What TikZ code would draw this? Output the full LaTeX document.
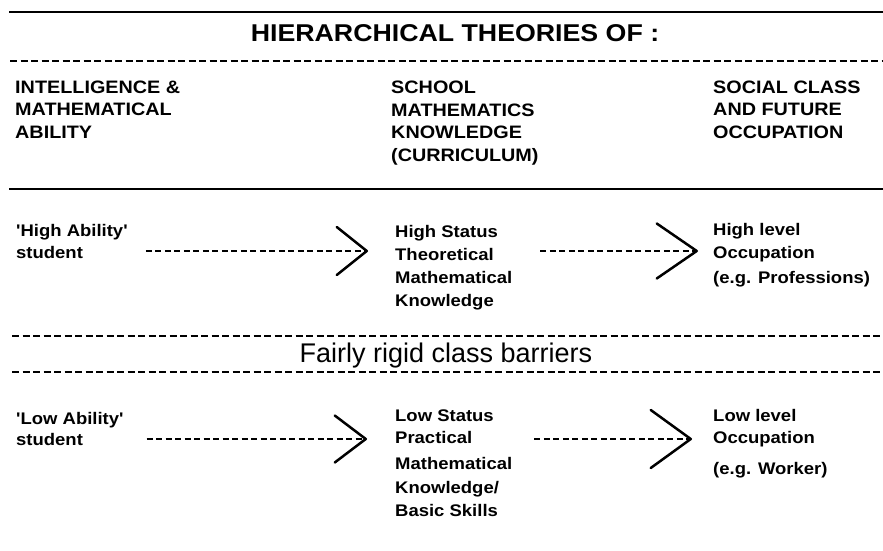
\documentclass[tikz,border=0pt]{standalone}
\usepackage{fontspec}
\setmainfont{Liberation Sans}
\newfontfamily\widesf[FakeStretch=1.1]{Liberation Sans}
\usetikzlibrary{arrows.meta}

\begin{document}
\begin{tikzpicture}[x=1pt,y=-1pt]
    \tikzset{rule/.style = {line width=2.5pt}}
    \tikzset{sep/.style = {line width=2.5pt,dash pattern=on 7pt off 3.5pt}}
    \tikzset{head/.style = {font=\widesf\bfseries\fontsize{18}{22.5}\selectfont,align=left,anchor=base west,inner sep=0pt}}
    \tikzset{body/.style = {font=\widesf\bfseries\fontsize{16.8}{23}\selectfont,align=left,anchor=base west,inner sep=0pt}}
    \tikzset{flow/.style 2 args = {line width=1.2pt,dash pattern=on 6pt off 3.5pt,
        -{Straight Barb[length=#1,width=#2,line width=2.5pt,round]}}}
    \useasboundingbox (0,0) rectangle (883,551);
    \node[font=\widesf\bfseries\fontsize{24.3}{28}\selectfont,anchor=base,inner sep=0pt] (title) at (455,42) {HIERARCHICAL THEORIES OF :};
    \node[head] (h1) at (15,138) {INTELLIGENCE \&\\MATHEMATICAL\\ABILITY};
    \node[head] (h2) at (391,161) {SCHOOL\\MATHEMATICS\\KNOWLEDGE\\(CURRICULUM)};
    \node[head] (h3) at (713,138) {SOCIAL CLASS\\AND FUTURE\\OCCUPATION};
    \node[body] (hiStu) at (16,258) {'High Ability'\\[-1pt]student};
    \node[body] (hiKnow) at (395,306) {High Status\\Theoretical\\Mathematical\\Knowledge};
    \node[body] (hiOcc) at (713,283) {High level\\Occupation\\[2pt](e.g. Professions)};
    \node[font=\fontsize{27}{30}\selectfont,anchor=base,inner sep=0pt] (bar) at (446,362) {Fairly rigid class barriers};
    \node[body] (loStu) at (16,445) {'Low Ability'\\[-2pt]student};
    \node[body] (loKnow) at (395,516) {Low Status\\[-1pt]Practical\\[3pt]Mathematical\\[1pt]Knowledge/\\Basic Skills};
    \node[body] (loOcc) at (713,474) {Low level\\[-1pt]Occupation\\[8pt](e.g. Worker)};
    \coordinate (hiRow) at (0,251); \coordinate (loRow) at (0,439);
    \draw[rule] (9,12) -- (885,12); \draw[rule] (9,189) -- (885,189);
    \draw[sep] (10,61) -- (885,61); \draw[sep] (12,336) -- (885,336);
    \draw[sep] (12,372) -- (885,372);
    \draw[flow={30pt}{48pt}] ([xshift=18]hiStu.east |- hiRow) -- ([xshift=-27]hiKnow.west |- hiRow);
    \draw[flow={40pt}{55pt}] ([xshift=28]hiKnow.east |- hiRow) -- ([xshift=-15]hiOcc.west |- hiRow);
    \draw[flow={31pt}{47pt}] ([xshift=23]loStu.east |- loRow) -- ([xshift=-28]loKnow.west |- loRow);
    \draw[flow={40pt}{58pt}] ([xshift=22]loKnow.east |- loRow) -- ([xshift=-21]loOcc.west |- loRow);
  \end{tikzpicture}
\end{document}
